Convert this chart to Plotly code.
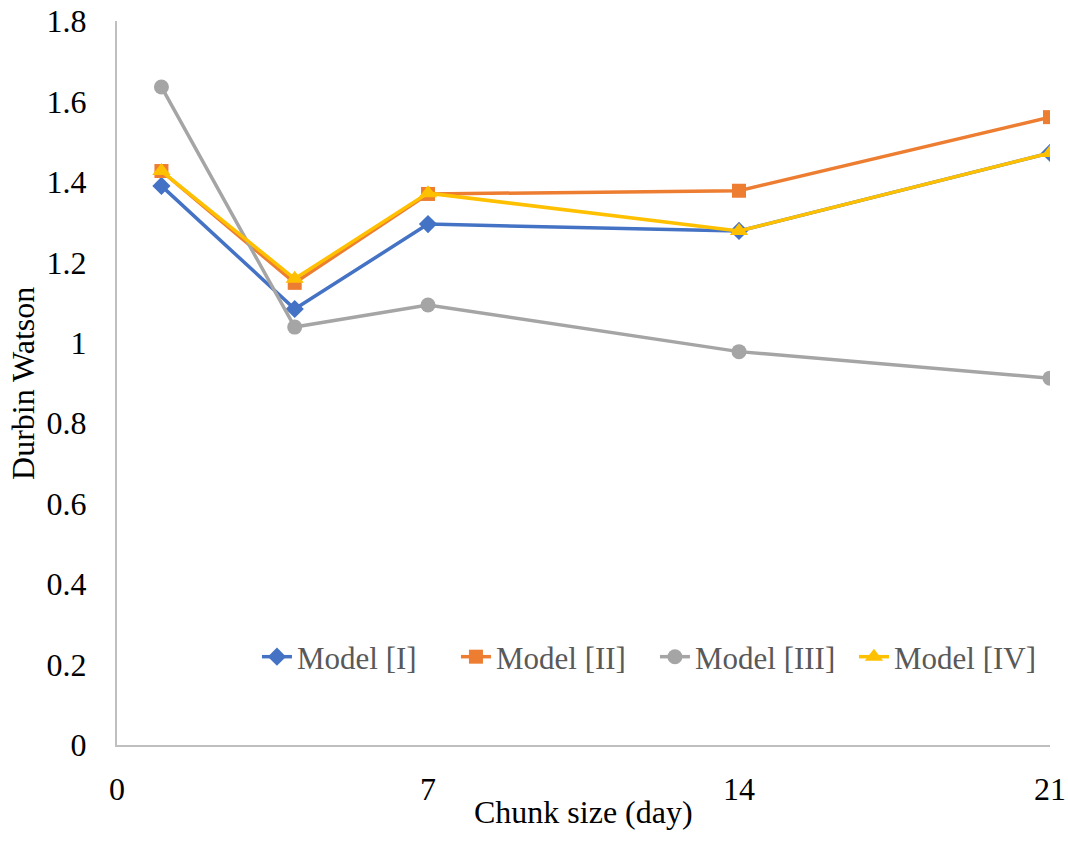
import plotly.graph_objects as go

chunk_days = [1, 4, 7, 14, 21]
model_i = [1.39, 1.084, 1.295, 1.278, 1.472]
model_ii = [1.427, 1.149, 1.37, 1.378, 1.561]
model_iii = [1.636, 1.039, 1.094, 0.978, 0.912]
model_iv = [1.427, 1.159, 1.372, 1.278, 1.472]

y_ticks = [0, 0.2, 0.4, 0.6, 0.8, 1, 1.2, 1.4, 1.6, 1.8]
y_tick_text = ["0", "0.2", "0.4", "0.6", "0.8", "1", "1.2", "1.4", "1.6", "1.8"]
x_ticks = [0, 7, 14, 21]

series = [
    ("Model [I]", model_i, "#4472C4", "diamond", 14),
    ("Model [II]", model_ii, "#ED7D31", "square", 14),
    ("Model [III]", model_iii, "#A5A5A5", "circle", 15),
    ("Model [IV]", model_iv, "#FFC000", "triangle-up", 16),
]

fig = go.Figure()
for name, vals, color, sym, sz in series:
    fig.add_trace(go.Scatter(
        x=chunk_days, y=vals, name=name, mode="lines+markers",
        line=dict(color=color, width=3.5),
        marker=dict(symbol=sym, size=sz, color=color),
    ))

font = "Liberation Serif, Times New Roman, serif"
fig.update_layout(
    width=1068, height=845,
    margin=dict(l=117, r=18, t=21, b=100),
    paper_bgcolor="white", plot_bgcolor="white",
    font=dict(family=font, size=32, color="#000000"),
    showlegend=True,
    legend=dict(
        orientation="h", x=0.150, xanchor="left", y=0.1215, yanchor="middle",
        bgcolor="rgba(0,0,0,0)", font=dict(family=font, size=31, color="#595959"),
        itemwidth=30, entrywidth=154, entrywidthmode="pixels", tracegroupgap=0,
    ),
    xaxis=dict(
        range=[0, 21], tickvals=x_ticks, showgrid=False, zeroline=False,
        showline=True, linecolor="#BFBFBF", linewidth=2, ticks="",
        tickfont=dict(family=font, size=32, color="#000000"),
        ticklabelstandoff=15, automargin=False,
    ),
    yaxis=dict(
        range=[0, 1.8], showgrid=False, zeroline=False,
        showline=True, linecolor="#BFBFBF", linewidth=2, ticks="",
        tickvals=y_ticks, ticktext=y_tick_text,
        tickfont=dict(family=font, size=32, color="#000000"),
        ticklabelstandoff=22, automargin=False,
    ),
    annotations=[
        dict(text="Chunk size (day)", xref="paper", yref="paper", x=0.5, y=-0.0925,
             xanchor="center", yanchor="middle", showarrow=False,
             font=dict(family=font, size=32, color="#000000")),
        dict(text="Durbin Watson", xref="paper", yref="paper", x=-0.1008, y=0.5,
             xanchor="center", yanchor="middle", showarrow=False, textangle=-90,
             font=dict(family=font, size=32, color="#000000")),
    ],
)

fig.write_html("out.html")
